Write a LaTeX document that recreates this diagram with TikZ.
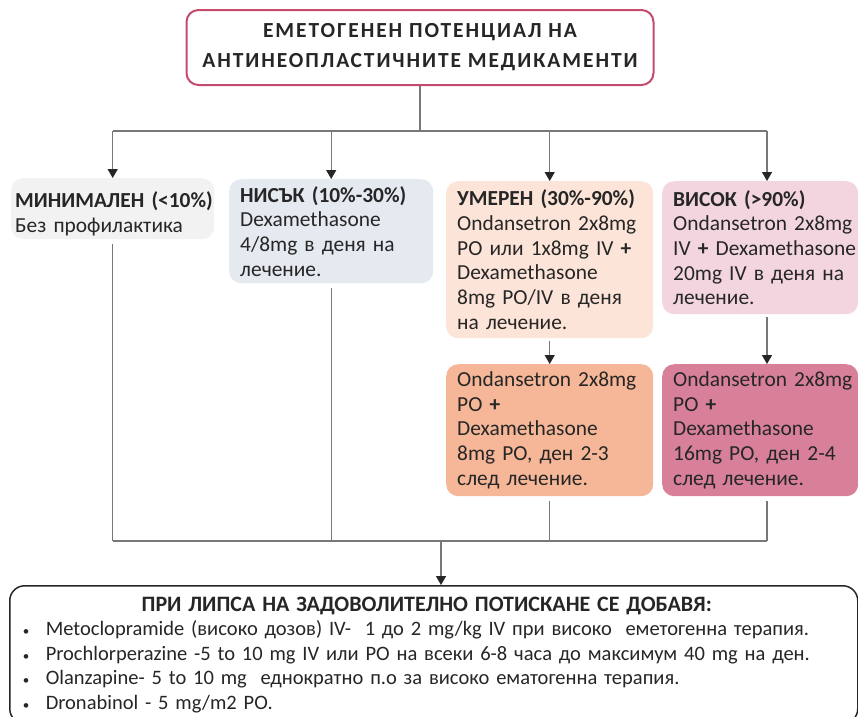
\documentclass[tikz,border=0pt]{standalone}
\usepackage{fontspec}
\setmainfont{Carlito}
\usetikzlibrary{arrows.meta, positioning}
\definecolor{titlered}{RGB}{196, 74, 110}
\definecolor{minigray}{RGB}{242, 242, 242}
\definecolor{lowblue}{RGB}{229, 233, 240}
\definecolor{modpeach}{RGB}{252, 229, 216}
\definecolor{highpink}{RGB}{243, 213, 223}
\definecolor{modsalmon}{RGB}{245, 183, 152}
\definecolor{highrose}{RGB}{216, 128, 154}
\definecolor{linegray}{RGB}{120, 120, 120}
\definecolor{textdark}{RGB}{38, 38, 38}

\newcommand{\txtline}[1]{\mbox{#1}}
\newcommand{\topgap}{\rule{0pt}{26pt}}
\newcommand{\bul}{\makebox[23pt][l]{\fontsize{13}{13}\selectfont •}}

\tikzset{
  levelbox/.style={rounded corners=12pt, anchor=north west, align=left,
    inner xsep=11pt, text=textdark, font=\fontsize{21.4}{24.7}\selectfont},
  link/.style={draw=linegray, line width=1.3pt},
  linkarrow/.style={link, -{Triangle[length=9pt, width=10pt, color=black!85]}}
}

\begin{document}
\begin{tikzpicture}[x=1pt, y=-1pt]
        \clip (0,0) rectangle (858,716);
        \fill[white] (0,0) rectangle (858,716);

        % заглавие
        \node[draw=titlered, line width=2pt, rounded corners=12pt, minimum width=467pt,
              minimum height=75pt, align=center, text=textdark,
              font=\fontsize{21.5}{30}\selectfont\bfseries\addfontfeature{LetterSpace=9}] (title) at (420,47.5)
              {ЕМЕТОГЕНЕН ПОТЕНЦИАЛ НА\\АНТИНЕОПЛАСТИЧНИТЕ МЕДИКАМЕНТИ};

        % нива на риск
        \node[levelbox, fill=minigray, inner xsep=4pt, text width=195pt, minimum height=60pt] (b1) at (11,178)
              {\txtline{\topgap\textbf{МИНИМАЛЕН (<10\%)}}\\\txtline{Без профилактика}};
        \node[levelbox, fill=lowblue, text width=182pt, minimum height=104pt] (b2) at (229,179)
              {\txtline{\textbf{НИСЪК (10\%-30\%)}}\\\txtline{Dexamethasone}\\\txtline{4/8mg в деня на}\\\txtline{лечение.}};
        \node[levelbox, fill=modpeach, text width=185pt, minimum height=157pt] (b3) at (446,181)
              {\txtline{\textbf{УМЕРЕН (30\%-90\%)}}\\\txtline{Ondansetron 2x8mg}\\\txtline{PO или 1x8mg IV \textbf{+}}\\\txtline{Dexamethasone}\\\txtline{8mg PO/IV в деня}\\\txtline{на лечение.}};
        \node[levelbox, fill=highpink, text width=174pt, minimum height=133pt] (b4) at (662,181)
              {\txtline{\textbf{ВИСОК (>90\%)}}\\\txtline{Ondansetron 2x8mg}\\\txtline{IV \textbf{+} Dexamethasone}\\\txtline{20mg IV в деня на}\\\txtline{лечение.}};

        % след лечение
        \node[levelbox, fill=modsalmon, text width=185pt, minimum height=132pt] (b5) at (446,364)
              {\txtline{Ondansetron 2x8mg}\\\txtline{PO \textbf{+}}\\\txtline{Dexamethasone}\\\txtline{8mg PO, ден 2-3}\\\txtline{след лечение.}};
        \node[levelbox, fill=highrose, text width=174pt, minimum height=132pt] (b6) at (662,364)
              {\txtline{Ondansetron 2x8mg}\\\txtline{PO \textbf{+}}\\\txtline{Dexamethasone}\\\txtline{16mg PO, ден 2-4}\\\txtline{след лечение.}};

        % допълнителни средства
        \node[draw=textdark, line width=1.5pt, rounded corners=15pt, anchor=north west,
              text width=822pt, inner xsep=13pt, inner ysep=11pt, align=left, text=textdark,
              font=\fontsize{20.5}{24.5}\selectfont] (extra) at (9,585)
              {\makebox[808pt]{\fontsize{22}{24.5}\selectfont\bfseries ПРИ ЛИПСА НА ЗАДОВОЛИТЕЛНО ПОТИСКАНЕ СЕ ДОБАВЯ:}\\
               \bul Metoclopramide (високо дозов) IV-\ \ 1 до 2 mg/kg IV при високо\ \ еметогенна терапия.\\
               \bul Prochlorperazine -5 to 10 mg IV или PO\ на всеки\ 6-8 часа до максимум 40 mg на ден.\\
               \bul Olanzapine- 5 to 10 mg\ \ еднократно п.о за високо ематогенна терапия.\\
               \bul Dronabinol - 5 mg/m2 PO.};

        % връзки
        \coordinate (split) at (420,131);
        \coordinate (join) at (441,541);
        \coordinate (col4) at (767,0);

        \draw[link] (title.south) -- (split);
        \draw[link] (b1.north |- split) -- (col4 |- split);
        \foreach \b in {b1,b2,b3}
            \draw[linkarrow] (\b.north |- split) -- (\b.north);
        \draw[linkarrow] (col4 |- split) -- (col4 |- b4.north);

        \draw[linkarrow, shorten <=3pt] (b3.south) -- (b5.north);
        \draw[linkarrow, shorten <=3pt] (col4 |- b4.south) -- (col4 |- b6.north);

        \foreach \b in {b1,b2,b5}
            \draw[link, shorten <=5pt] (\b.south) -- (\b.south |- join);
        \draw[link, shorten <=5pt] (col4 |- b6.south) -- (col4 |- join);
        \draw[link] (b1.south |- join) -- (col4 |- join);
        \draw[linkarrow] (join) -- (join |- extra.north);
    \end{tikzpicture}
\end{document}
